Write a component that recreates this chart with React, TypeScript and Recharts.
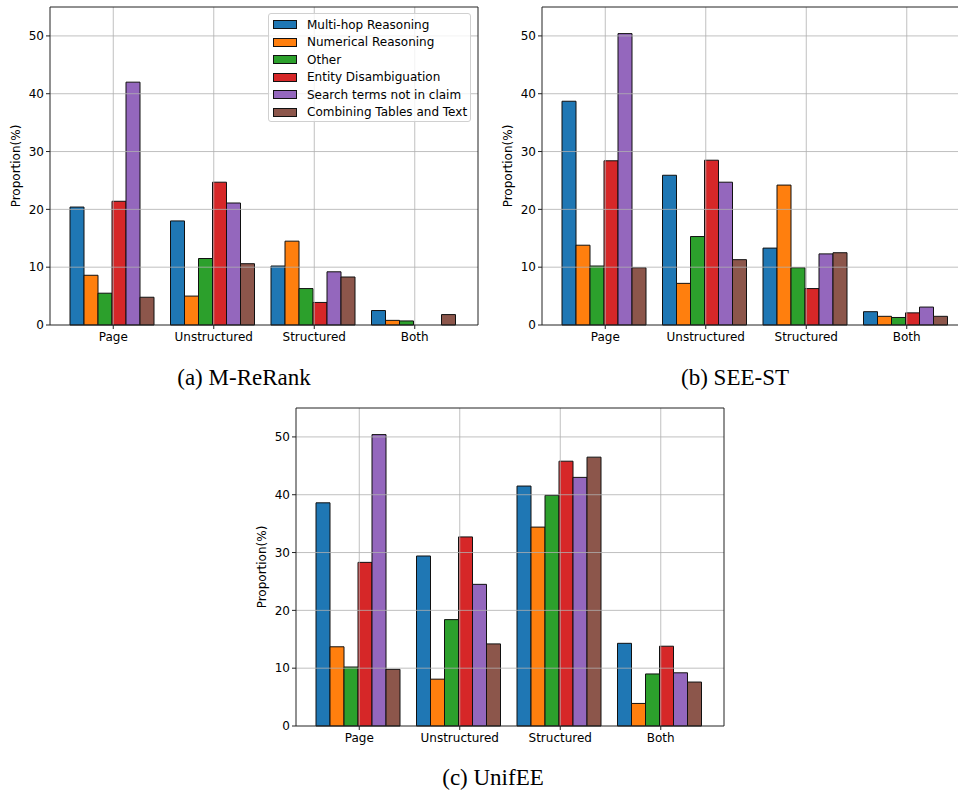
import React from "react";
import {
  BarChart,
  Bar,
  XAxis,
  YAxis,
  ReferenceLine,
} from "recharts";

const CATEGORIES = ["Page", "Unstructured", "Structured", "Both"];

const SERIES_NAMES = [
  "Multi-hop Reasoning",
  "Numerical Reasoning",
  "Other",
  "Entity Disambiguation",
  "Search terms not in claim",
  "Combining Tables and Text",
];

const COLORS = ["#1f77b4", "#ff7f0e", "#2ca02c", "#d62728", "#9467bd", "#8c564b"];

const Y_TICKS = [0, 10, 20, 30, 40, 50];

// one row per series, one value per category
const M_RERANK = [
  [20.4, 18.0, 10.2, 2.5],
  [8.6, 5.0, 14.5, 0.8],
  [5.5, 11.5, 6.3, 0.7],
  [21.4, 24.7, 3.9, 0],
  [42.0, 21.1, 9.2, 0],
  [4.8, 10.6, 8.3, 1.8],
];

const SEE_ST = [
  [38.7, 25.9, 13.3, 2.3],
  [13.8, 7.2, 24.2, 1.5],
  [10.2, 15.3, 9.9, 1.3],
  [28.4, 28.5, 6.3, 2.1],
  [50.4, 24.7, 12.3, 3.1],
  [9.9, 11.3, 12.5, 1.5],
];

const UNIFEE = [
  [38.6, 29.4, 41.5, 14.3],
  [13.7, 8.1, 34.4, 3.9],
  [10.2, 18.4, 39.9, 9.0],
  [28.3, 32.7, 45.8, 13.8],
  [50.4, 24.5, 43.0, 9.2],
  [9.8, 14.2, 46.5, 7.6],
];

const toRows = (values: number[][]) =>
  CATEGORIES.map((name, i) => {
    const row: Record<string, string | number> = { name };
    values.forEach((s, j) => {
      row["s" + j] = s[i];
    });
    return row;
  });

const GRID = "#b0b0b0";
const SPINE = "#222";

function YLabel(props: any) {
  const vb = props.viewBox || { x: 0, y: 0, height: 0 };
  const x = vb.x + 16;
  const y = vb.y + vb.height / 2;
  return (
    <text
      x={x}
      y={y}
      fontSize={12}
      fill="#000"
      textAnchor="middle"
      dominantBaseline="central"
      transform={`rotate(-90, ${x}, ${y})`}
    >
      Proportion(%)
    </text>
  );
}

function Panel({ values, left, top }: { values: number[][]; left: number; top: number }) {
  const rows = toRows(values);
  return (
    <div style={{ position: "absolute", left, top }}>
      <BarChart
        width={480}
        height={360}
        data={rows}
        margin={{ top: 6, right: 1, bottom: 5, left: 0 }}
        barCategoryGap={7}
        barGap={0}
      >
        <XAxis
          dataKey="name"
          interval={0}
          padding={{ left: 13, right: 13 }}
          height={30}
          tickSize={4}
          tickMargin={3}
          tick={{ fontSize: 12, fill: "#000" }}
          tickLine={{ stroke: SPINE }}
          axisLine={{ stroke: SPINE }}
        />
        <XAxis
          xAxisId="top"
          orientation="top"
          dataKey="name"
          padding={{ left: 13, right: 13 }}
          height={1}
          tick={false}
          tickLine={false}
          axisLine={{ stroke: SPINE }}
        />
        <YAxis
          domain={[0, 55]}
          ticks={Y_TICKS}
          width={50}
          tickSize={4}
          tickMargin={2}
          tick={{ fontSize: 12, fill: "#000" }}
          tickLine={{ stroke: SPINE }}
          axisLine={{ stroke: SPINE }}
          label={{ content: <YLabel /> }}
        />
        <YAxis
          yAxisId="right"
          orientation="right"
          domain={[0, 55]}
          width={1}
          tick={false}
          tickLine={false}
          axisLine={{ stroke: SPINE }}
        />
        {SERIES_NAMES.map((name, j) => (
          <Bar
            key={name}
            dataKey={"s" + j}
            name={name}
            fill={COLORS[j]}
            stroke="#111"
            strokeWidth={1}
            isAnimationActive={false}
          />
        ))}
        {Y_TICKS.slice(1).map((v) => (
          <ReferenceLine key={"h" + v} y={v} stroke={GRID} strokeWidth={0.8} />
        ))}
        {CATEGORIES.map((c) => (
          <ReferenceLine key={"v" + c} x={c} stroke={GRID} strokeWidth={0.8} />
        ))}
      </BarChart>
    </div>
  );
}

function LegendBox() {
  return (
    <div
      style={{
        position: "absolute",
        left: 268,
        top: 13,
        width: 203,
        height: 109,
        background: "rgba(255,255,255,0.8)",
        border: "1px solid #d0d0d0",
        borderRadius: 3,
        boxSizing: "border-box",
        paddingTop: 2,
      }}
    >
      {SERIES_NAMES.map((name, j) => (
        <div
          key={name}
          style={{ display: "flex", alignItems: "center", height: 17.5, fontSize: 12, color: "#000" }}
        >
          <span
            style={{
              display: "inline-block",
              width: 24,
              height: 9,
              marginLeft: 4,
              marginRight: 10,
              background: COLORS[j],
              border: "1px solid #111",
              boxSizing: "border-box",
            }}
          />
          <span style={{ whiteSpace: "nowrap" }}>{name}</span>
        </div>
      ))}
    </div>
  );
}

function Caption({ text, cx, top }: { text: string; cx: number; top: number }) {
  return (
    <div
      style={{
        position: "absolute",
        left: cx - 150,
        top,
        width: 300,
        textAlign: "center",
        fontFamily: "'Liberation Serif', 'Times New Roman', serif",
        fontSize: 23,
        lineHeight: "23px",
        color: "#000",
      }}
    >
      {text}
    </div>
  );
}

export default function App() {
  return (
    <div
      style={{
        position: "absolute",
        left: 0,
        top: 0,
        width: 958,
        height: 794,
        overflow: "hidden",
        background: "#fff",
        fontFamily: "'DejaVu Sans', sans-serif",
      }}
    >
      <Panel values={M_RERANK} left={0} top={0} />
      <Panel values={SEE_ST} left={492} top={0} />
      <Panel values={UNIFEE} left={246} top={401} />
      <LegendBox />
      <Caption text="(a) M-ReRank" cx={244} top={366} />
      <Caption text="(b) SEE-ST" cx={735} top={366} />
      <Caption text="(c) UnifEE" cx={493} top={766} />
    </div>
  );
}
